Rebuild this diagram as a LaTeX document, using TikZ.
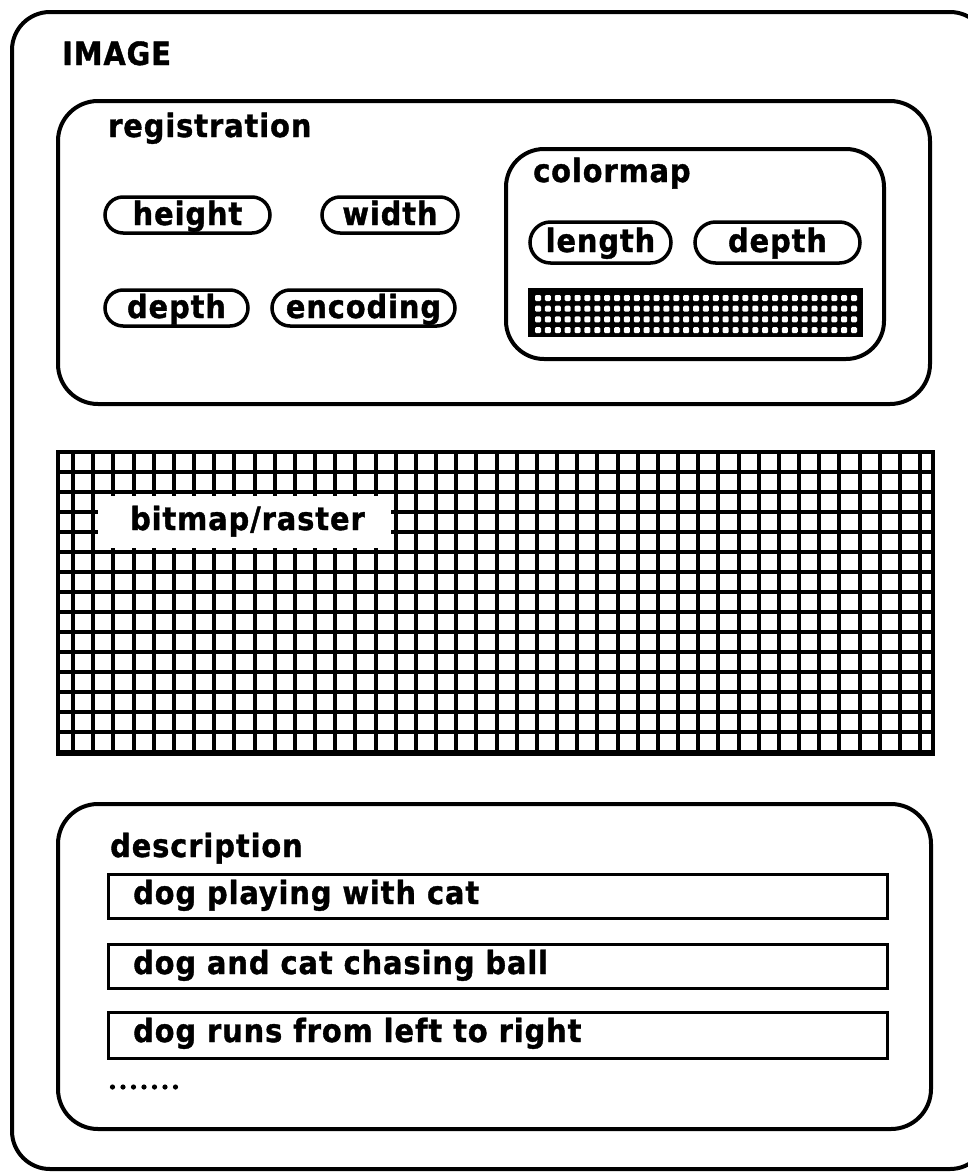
\documentclass[tikz,border=0pt]{standalone}
\usepackage{fontspec}
\setmainfont{DejaVu Sans Condensed}[LetterSpace=3, BoldFeatures={FakeBold=1.2}]
\usetikzlibrary{shapes.misc}
\begin{document}
\begin{tikzpicture}[x=1pt,y=-1pt,
  lbl/.style={font=\fontsize{32}{34}\selectfont\bfseries, inner sep=0pt, anchor=base west},
  pill/.style={draw, line width=3.5pt, rounded rectangle, inner sep=0pt,
    font=\fontsize{32}{34}\selectfont\bfseries, text height=25pt, text depth=5pt},
  cmpill/.style={pill, text height=25pt, text depth=6pt},
  boxline/.style={draw, line width=4pt, rounded corners=40pt},
  entry/.style={draw, line width=3pt, inner sep=0pt, anchor=north west,
    minimum width=779pt, minimum height=44pt},
  gridline/.style={line width=4pt}]
\useasboundingbox (0,0) rectangle (968,1173);
\clip (0,0) rectangle (968,1173);

% outer frame
\draw[line width=4pt, rounded corners=38pt] (12,12) rectangle (988,1169);
\node[lbl] (imagelbl) at (62,65) {IMAGE};

% registration
\draw[boxline] (58,101) rectangle (930,404);
\node[lbl] (reglbl) at (108,137) {registration};
\node[pill, minimum width=165pt, minimum height=36pt] (height) at (187.5,215) {height};
\node[pill, minimum width=136pt, minimum height=36pt] (width) at (390,215) {width};
\node[pill, minimum width=143pt, minimum height=36pt] (depth) at (176.5,308) {depth};
\node[pill, minimum width=183pt, minimum height=36pt] (encoding) at (363.5,308) {encoding};

% colormap
\draw[boxline, rounded corners=38pt] (506,149) rectangle (884,359);
\node[lbl] (cmlbl) at (533,182) {colormap};
\node[cmpill, minimum width=141pt, minimum height=41pt] (length) at (600.5,242.5) {length};
\node[cmpill, minimum width=165pt, minimum height=41pt] (cmdepth) at (777.5,242.5) {depth};
\fill (528,288) rectangle (863,337);
\foreach \i in {0,...,32} \foreach \j in {0,...,3}
  \fill[white, rounded corners=1.2pt] ({538+9.875*\i-3},{298+10.7*\j-3}) rectangle +(6,6);

% bitmap / raster
\fill[white] (58,452) rectangle (933,752);
\foreach \k in {0,...,42} \draw[gridline] ({73+20.17*\k},452) -- ({73+20.17*\k},752);
\foreach \k in {0,...,14} \draw[gridline] (58,{452+20*\k}) -- (933,{452+20*\k});
\draw[gridline] (58,452) rectangle (933,752);
\draw[line width=6pt] (56,753) -- (935,753);
\fill[white] (98,496) rectangle (391,548);
\node[lbl] (rasterlbl) at (130,530) {bitmap/raster};

% description
\draw[boxline] (58,804) rectangle (931,1129);
\node[lbl] (desclbl) at (110,857) {description};
\node[entry] (e1) at (107,873) {};
\node[entry] (e2) at (107,943) {};
\node[entry, minimum height=46pt] (e3) at (107,1011) {};
\node[lbl] (t1) at (133,904) {dog playing with cat};
\node[lbl] (t2) at (133,974) {dog and cat chasing ball};
\node[lbl] (t3) at (133,1042) {dog runs from left to right};
\foreach \k in {0,...,6} \fill ({112.5+10.5*\k},1087) circle (2.6pt);
\end{tikzpicture}
\end{document}
